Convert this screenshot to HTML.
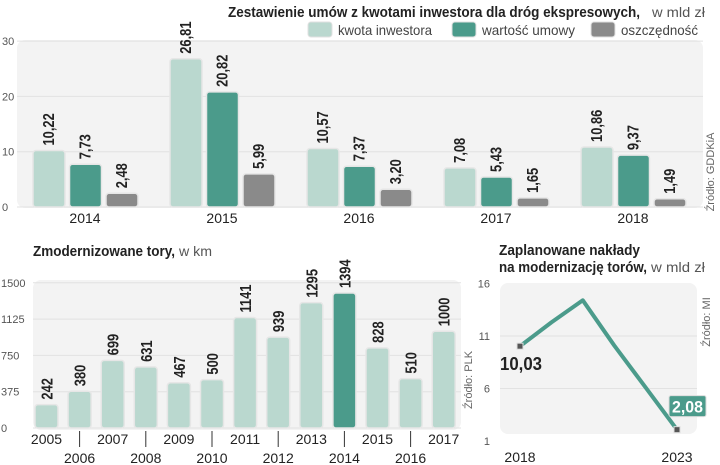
<!DOCTYPE html>
<html><head><meta charset="utf-8">
<style>
body{margin:0;background:#fff;}
svg{display:block;font-family:"Liberation Sans","DejaVu Sans",sans-serif;}
</style></head>
<body>
<svg id="c" width="720" height="465" viewBox="0 0 720 465" xmlns="http://www.w3.org/2000/svg">
  <text x="228" y="17" textLength="412" lengthAdjust="spacingAndGlyphs" font-size="15" font-weight="bold" fill="#222">Zestawienie umów z kwotami inwestora dla dróg ekspresowych,</text>
  <text x="652" y="17" textLength="53" lengthAdjust="spacingAndGlyphs" font-size="14" fill="#555">w  mld zł</text>
  <rect x="17" y="40" width="686" height="168" rx="8" fill="#f3f3f3"/>
  <text x="33" y="256" textLength="142" lengthAdjust="spacingAndGlyphs" font-size="15" font-weight="bold" fill="#222">Zmodernizowane tory,</text>
  <text x="179" y="256" textLength="33" lengthAdjust="spacingAndGlyphs" font-size="14" fill="#555">w km</text>
  <text x="499" y="255" textLength="141" lengthAdjust="spacingAndGlyphs" font-size="15" font-weight="bold" fill="#222">Zaplanowane nakłady</text>
  <text x="499" y="272" textLength="148" lengthAdjust="spacingAndGlyphs" font-size="15" font-weight="bold" fill="#222">na modernizację torów,</text>
  <text x="651" y="272" textLength="54" lengthAdjust="spacingAndGlyphs" font-size="14" fill="#555">w mld zł</text>
  <text transform="translate(714,172) rotate(-90)" text-anchor="middle" font-size="11" fill="#666">Źródło: GDDKiA</text>
  <text transform="translate(472,380) rotate(-90)" text-anchor="middle" font-size="11" fill="#666">Źródło: PLK</text>
  <text transform="translate(710,322) rotate(-90)" text-anchor="middle" font-size="11" fill="#666">Źródło: MI</text>
  <g id="g1"></g><g id="g2"></g><g id="g3"></g>
</svg>
<script>
// ---- top chart data
const topYears = ["2014","2015","2016","2017","2018"];
const kwota = [10.22, 26.81, 10.57, 7.08, 10.86];
const wartosc = [7.73, 20.82, 7.37, 5.43, 9.37];
const oszcz = [2.48, 5.99, 3.20, 1.65, 1.49];
const topTicks = [0, 10, 20, 30];
const seriesNames = ["kwota inwestora", "wartość umowy", "oszczędność"];
// ---- bottom-left data
const toryYears = ["2005","2006","2007","2008","2009","2010","2011","2012","2013","2014","2015","2016","2017"];
const toryKm = [242, 380, 699, 631, 467, 500, 1141, 939, 1295, 1394, 828, 510, 1000];
const toryTicks = [0, 375, 750, 1125, 1500];
// ---- line chart data
const lineYears = [2018, 2019, 2020, 2021, 2022, 2023];
const naklady = [10.03, 12.3, 14.4, 10.1, 6.1, 2.08];
const lineTicks = [1, 6, 11, 16];

const NS = "http://www.w3.org/2000/svg";
function mk(tag, attrs, parent, txt){
  const e = document.createElementNS(NS, tag);
  for (const k in attrs) e.setAttribute(k, attrs[k]);
  if (txt !== undefined) e.textContent = txt;
  parent.appendChild(e); return e;
}
const colors = ["#bad8cf", "#4b9b8b", "#8a8a8a"];
const VL = "rotate(-90) scale(0.86,1.05)";

// ===== Top chart
const g1 = document.getElementById("g1");
const y1 = v => 207 - v * 5.53;
const x1 = i => 85 + i * 137;
topTicks.forEach(t => {
  const l = mk("line", {x1:17, x2:703, y1:y1(t), y2:y1(t), stroke:"#e2e2e2", "stroke-width":1}, g1);
  
  
  const tx = mk("text", {x:2, y:y1(t)+4, "font-size":11, fill:"#555"}, g1, String(t));
  
  
});
const topSeries = [kwota, wartosc, oszcz];
topYears.forEach((yr, i) => {
  topSeries.forEach((s, j) => {
    const bx = x1(i) - 52 + j * 36.5;
    const v = s[i];
    const r = mk("rect", {x:bx, y:y1(v), width:32, height:207 - y1(v), rx:3, fill:colors[j], stroke:"#e6e6e6", "stroke-width":1.5}, g1);
    
    
    const lab = mk("text", {transform:`translate(${bx+21},${y1(v)-5}) ${VL}`, "font-size":15, "font-weight":"bold", fill:"#222"}, g1, v.toFixed(2).replace(".", ","));
    
    
  });
  const t = mk("text", {x:x1(i), y:223, "text-anchor":"middle", "font-size":14, fill:"#222"}, g1, yr);
  
  
});
// legend
const legX = [308, 452, 591];
const legW = [94, 93, 77];
seriesNames.forEach((n, j) => {
  const r = mk("rect", {x:legX[j], y:22, width:24, height:15, rx:3, fill:colors[j], stroke:"#e0e0e0"}, g1);
  
  
  const t = mk("text", {x:legX[j]+30, y:35, "font-size":14, fill:"#444", textLength:legW[j], lengthAdjust:"spacingAndGlyphs"}, g1, n);
  
  
});

// ===== Bottom-left chart
const g2 = document.getElementById("g2");
mk("rect", {x:33, y:280, width:428, height:150, rx:8, fill:"#f3f3f3"}, g2);
const y2 = v => 428 - v * 0.0968;
const x2 = i => 46.5 + i * 33.1;
toryTicks.forEach(t => {
  const l = mk("line", {x1:33, x2:461, y1:y2(t), y2:y2(t), stroke:"#e2e2e2"}, g2);
  
  
  const tx = mk("text", {x:1, y:y2(t)+4, "font-size":11, fill:"#555"}, g2, String(t));
  
  
});
toryYears.forEach((yr, i) => {
  const v = toryKm[i];
  const bx = x2(i) - 11.5;
  const r = mk("rect", {x:bx, y:y2(v), width:23, height:428 - y2(v), rx:3, fill: yr === "2014" ? "#4b9b8b" : "#bad8cf", stroke:"#e6e6e6", "stroke-width":1.5}, g2);
  
  
  const lab = mk("text", {transform:`translate(${x2(i)+6},${y2(v)-5}) ${VL}`, "font-size":15, "font-weight":"bold", fill:"#222"}, g2, String(v));
  
  
  const odd = i % 2 === 1;
  if (odd) {
    const tl = mk("line", {x1:x2(i), x2:x2(i), y1:431, y2:447, stroke:"#333", "stroke-width":1}, g2);
    
    
  }
  const t = mk("text", {x:x2(i), y: odd ? 463 : 444, "text-anchor":"middle", "font-size":14, fill:"#222"}, g2, yr);
  
  
});

// ===== Line chart
const g3 = document.getElementById("g3");
mk("rect", {x:500, y:283, width:197, height:151, rx:8, fill:"#f3f3f3"}, g3);
const y3 = v => 441 - (v - 1) * 10.5;
const x3 = yr => 520 + (yr - 2018) * 31.4;
lineTicks.forEach(t => {
  if (t > 1 && t < 16) {
    const l = mk("line", {x1:500, x2:697, y1:y3(t), y2:y3(t), stroke:"#e2e2e2"}, g3);
    
    
  }
  const tx = mk("text", {x:490, y:y3(t)+4, "text-anchor":"end", "font-size":11, fill:"#555"}, g3, String(t));
  
  
});
const pts = lineYears.map((yr, i) => x3(yr) + "," + y3(naklady[i])).join(" ");
const pl = mk("polyline", {points:pts, fill:"none", stroke:"#4b9b8b", "stroke-width":4, "stroke-linejoin":"round"}, g3);


[0, lineYears.length - 1].forEach(i => {
  const p = mk("rect", {x:x3(lineYears[i])-3, y:y3(naklady[i])-3, width:6, height:6, fill:"#555", stroke:"#ddd"}, g3);
  
  
});
const l0 = mk("text", {x:500, y:y3(naklady[0])+24, "font-size":18, "font-weight":"bold", fill:"#222", textLength:42, lengthAdjust:"spacingAndGlyphs"}, g3, naklady[0].toFixed(2).replace(".", ","));


const last = naklady[naklady.length - 1];
const bxr = mk("rect", {x:669, y:y3(last)-34, width:37, height:21, rx:2, fill:"#4b9b8b", stroke:"#ddd"}, g3);


const l1 = mk("text", {x:672, y:y3(last)-17, "font-size":17, "font-weight":"bold", fill:"#fff", textLength:31, lengthAdjust:"spacingAndGlyphs"}, g3, last.toFixed(2).replace(".", ","));


[lineYears[0], lineYears[lineYears.length-1]].forEach(yr => {
  const t = mk("text", {x:x3(yr), y:462, "text-anchor":"middle", "font-size":14, fill:"#222"}, g3, String(yr));
  
  
});
</script>
</body></html>
